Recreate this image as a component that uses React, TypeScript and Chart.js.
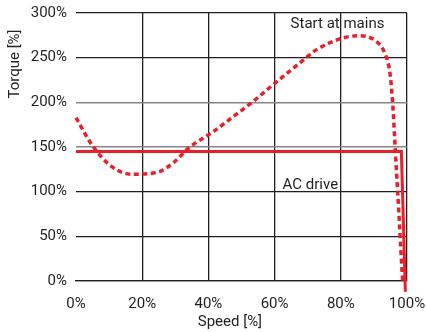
import { useEffect, useRef } from "react";
import { Chart, registerables } from "chart.js";

Chart.register(...registerables);

const speedTicks = [0, 20, 40, 60, 80, 100];
const torqueTicks = [0, 50, 100, 150, 200, 250, 300];

// "Start at mains" torque curve (speed %, torque %)
const mainsSpeed = [0, 4.7, 10.8, 17, 24.8, 29.3, 34.4, 41.4, 47.5, 53.5, 60.6, 67.6, 72.7, 79.7, 85.2, 90.8, 93.3, 94.8, 95.6, 96.3, 96.8, 97.5, 98.1, 98.7];
const mainsTorque = [183, 153, 128, 119.5, 122, 132, 150, 167, 184, 201, 223, 244, 259, 271, 274.5, 268, 255, 234, 203, 158, 124, 79, 38, -2];

// "AC drive" torque curve
const driveSpeed = [0, 98.3, 99.5];
const driveTorque = [145, 145, -12];

const noteTexts = ["Start at mains", "AC drive"];
const noteSpeed = [79, 70.8];
const noteTorque = [287, 107];

const xTitle = "Speed [%]";
const yTitle = "Torque [%]";

const TEXT = "#231f20";
const RED = "#e8202a";
const GRAY = "#858585";
const FONT = "Roboto";

const textPlugin = {
  id: "textsPlugin",
  afterDraw(chart: any) {
    const { ctx, chartArea, scales } = chart;
    ctx.save();
    ctx.fillStyle = TEXT;
    ctx.font = `15px ${FONT}`;
    ctx.textAlign = "center";
    ctx.textBaseline = "middle";
    noteTexts.forEach((t, i) => {
      ctx.fillText(t, scales.x.getPixelForValue(noteSpeed[i]), scales.y.getPixelForValue(noteTorque[i]));
    });
    ctx.fillText(xTitle, chartArea.left + (chartArea.right - chartArea.left) * 0.465, chartArea.bottom + 41);
    ctx.translate(chartArea.left - 61, chartArea.top + 51);
    ctx.rotate(-Math.PI / 2);
    ctx.fillText(yTitle, 0, 0);
    ctx.restore();
  },
};

export default function App() {
  const ref = useRef<HTMLCanvasElement | null>(null);
  useEffect(() => {
    if (!ref.current) return;
    const chart = new Chart(ref.current, {
      type: "line",
      data: {
        datasets: [
          {
            label: "Start at mains",
            data: mainsSpeed.map((x, i) => ({ x, y: mainsTorque[i] })),
            borderColor: RED,
            borderWidth: 3.5,
            borderDash: [5, 3.5],
            pointRadius: 0,
            cubicInterpolationMode: "monotone",
            fill: false,
            clip: false,
          },
          {
            label: "AC drive",
            data: driveSpeed.map((x, i) => ({ x, y: driveTorque[i] })),
            borderColor: RED,
            borderWidth: 3,
            pointRadius: 0,
            tension: 0,
            fill: false,
            clip: false,
          },
        ],
      },
      options: {
        animation: false,
        responsive: true,
        maintainAspectRatio: false,
        layout: { padding: { top: 13, right: 20, left: 0, bottom: 0 } },
        plugins: { legend: { display: false }, tooltip: { enabled: false } },
        scales: {
          x: {
            type: "linear",
            min: speedTicks[0],
            max: speedTicks[speedTicks.length - 1],
            afterBuildTicks: (s: any) => {
              s.ticks = speedTicks.map((v) => ({ value: v }));
            },
            afterFit: (s: any) => {
              s.height = 51;
              s.paddingLeft = 0;
              s.paddingRight = 0;
            },
            ticks: {
              color: TEXT,
              font: { family: FONT, size: 15 },
              padding: 14,
              maxRotation: 0,
              callback: (v: any) => `${v}%`,
            },
            grid: {
              drawTicks: false,
              lineWidth: 1.3,
              color: (c: any) => (c.tick && c.tick.value === 0 ? "rgba(0,0,0,0)" : TEXT),
            },
            border: { display: true, color: TEXT, width: 1.3 },
          },
          y: {
            type: "linear",
            min: torqueTicks[0],
            max: torqueTicks[torqueTicks.length - 1],
            afterBuildTicks: (s: any) => {
              s.ticks = torqueTicks.map((v) => ({ value: v }));
            },
            afterFit: (s: any) => {
              s.width = 76;
              s.paddingTop = 0;
              s.paddingBottom = 0;
            },
            ticks: {
              color: TEXT,
              font: { family: FONT, size: 15 },
              padding: 9,
              callback: (v: any) => `${v}%`,
            },
            grid: {
              drawTicks: false,
              lineWidth: (c: any) => (c.tick && (c.tick.value === 150 || c.tick.value === 200) ? 1.6 : 1.3),
              color: (c: any) => (c.tick && (c.tick.value === 150 || c.tick.value === 200) ? GRAY : TEXT),
            },
            border: { display: false },
          },
        },
      },
      plugins: [textPlugin],
    } as any);
    return () => chart.destroy();
  }, []);
  return (
    <div style={{ position: "fixed", left: 0, top: 0, width: 427, height: 332, background: "#fff" }}>
      <canvas ref={ref} />
    </div>
  );
}
